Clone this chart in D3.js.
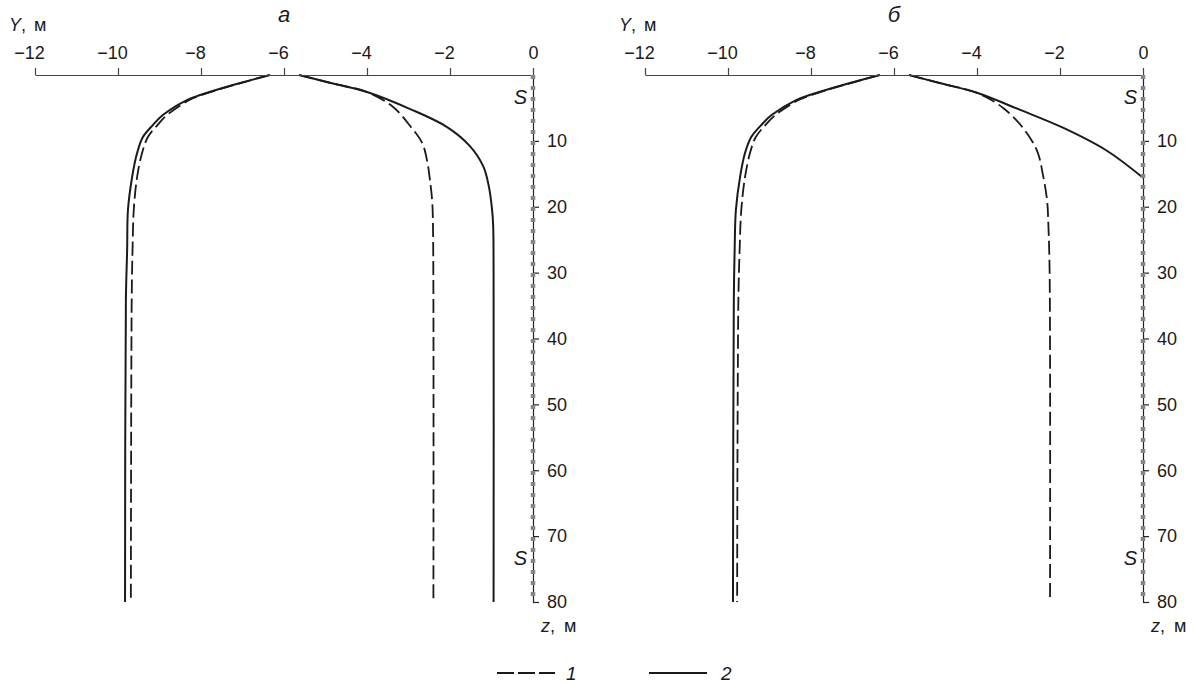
<!DOCTYPE html>
<html>
<head>
<meta charset="utf-8">
<script src="https://cdn.jsdelivr.net/npm/d3@7"></script>
<style>
body { margin: 0; background: #fff; }
text { font-family: "Liberation Sans", Arial, sans-serif; fill: #1a1a1a; }
</style>
</head>
<body>
<svg id="chart" width="1193" height="686"></svg>
<script>
// horizontal axis Y (m), vertical axis z (m)
var yTicks = [-12, -10, -8, -6, -4, -2, 0];
var zTicks = [10, 20, 30, 40, 50, 60, 70, 80];

// panel a
var aLeftSolidZ = [0, 1.52, 3.04, 3.8, 6.08, 7.6, 9.42, 11.85, 15.5, 20.5, 26.6, 34.2, 80];
var aLeftSolidY = [-6.34, -7.23, -8.02, -8.34, -8.92, -9.16, -9.4, -9.54, -9.66, -9.76, -9.78, -9.81, -9.83];
var aLeftDashZ = [0, 1.52, 3.04, 3.8, 6.08, 7.6, 9.42, 11.85, 15.5, 20.5, 26.6, 34.2, 80];
var aLeftDashY = [-6.34, -7.21, -7.98, -8.28, -8.82, -9.05, -9.28, -9.42, -9.54, -9.62, -9.65, -9.67, -9.69];
var aRightSolidZ = [0, 1.3, 2.58, 5.17, 7.9, 10.79, 13.83, 16.72, 20.2, 22.8, 30, 80];
var aRightSolidY = [-5.64, -4.82, -4.0, -2.96, -2.07, -1.52, -1.2, -1.07, -0.99, -0.96, -0.95, -0.95];
var aRightDashZ = [0, 1.3, 2.58, 4.86, 7.75, 10.33, 13.07, 16.1, 19.1, 22.8, 80];
var aRightDashY = [-5.64, -4.82, -4.0, -3.37, -2.96, -2.67, -2.55, -2.48, -2.43, -2.41, -2.4];

// panel б
var bLeftSolidZ = [0, 1.52, 3.04, 3.8, 6.08, 7.6, 9.42, 11.85, 15.5, 20.5, 26.6, 34.2, 80];
var bLeftSolidY = [-6.34, -7.23, -8.03, -8.36, -8.95, -9.2, -9.44, -9.59, -9.71, -9.81, -9.84, -9.86, -9.88];
var bLeftDashZ = [0, 1.52, 3.04, 3.8, 6.08, 7.6, 9.42, 11.85, 15.5, 20.5, 26.6, 34.2, 80];
var bLeftDashY = [-6.34, -7.21, -7.99, -8.3, -8.86, -9.1, -9.33, -9.47, -9.59, -9.68, -9.72, -9.75, -9.78];
var bRightSolidZ = [0, 1.3, 2.7, 5.3, 8, 11.5, 15.6];
var bRightSolidY = [-5.64, -4.85, -4.0, -2.96, -1.93, -0.87, 0];
var bRightDashZ = [0, 1.3, 2.7, 5.0, 8.05, 11.55, 15.2, 19.1, 22.8, 30, 80];
var bRightDashY = [-5.64, -4.85, -4.0, -3.37, -2.89, -2.55, -2.41, -2.31, -2.28, -2.25, -2.24];

var sMarks = [3.3, 73.3];

var svg = d3.select("#chart");

function pts(zs, ys) {
    return zs.map(function(z, i) { return [ys[i], z]; });
}

function drawPanel(left, title, curves) {
    var x = d3.scaleLinear().domain([-12, 0]).range([left, left + 498]);
    var z = d3.scaleLinear().domain([0, 80]).range([75, 602]);
    var g = svg.append("g");

    var line = d3.line()
        .x(function(d) { return x(d[0]); })
        .y(function(d) { return z(d[1]); })
        .curve(d3.curveCatmullRom.alpha(0.5));

    curves.forEach(function(c) {
        g.append("path")
            .attr("d", line(c.data))
            .attr("fill", "none")
            .attr("stroke", "#1a1a1a")
            .attr("stroke-width", c.dashed ? 1.8 : 2)
            .attr("stroke-dasharray", c.dashed ? "14,5" : null);
    });

    var top = g.append("g")
        .attr("transform", "translate(0,75)")
        .call(d3.axisTop(x).tickValues(yTicks).tickSize(7).tickSizeOuter(0).tickPadding(9));
    top.selectAll("path, line").attr("stroke", "#444").attr("stroke-width", 1.2);
    // digits centred on the tick, minus sign hangs to the left
    top.selectAll("text")
        .attr("font-size", 18)
        .attr("font-family", "Liberation Sans, Arial, sans-serif")
        .attr("fill", "#1a1a1a")
        .attr("dx", function(d) { return d < 0 ? -6 : 0; });

    var right = g.append("g")
        .attr("transform", "translate(" + x(0) + ",0)")
        .call(d3.axisRight(z).tickValues(zTicks).tickSize(6).tickSizeOuter(0).tickPadding(8));
    right.selectAll("path, line").attr("stroke", "#222").attr("stroke-width", 1.2);
    right.selectAll("text").attr("font-size", 18).attr("font-family", "Liberation Sans, Arial, sans-serif").attr("fill", "#1a1a1a");

    // grey dotted boundary S
    g.append("line")
        .attr("x1", x(0)).attr("x2", x(0))
        .attr("y1", z(0)).attr("y2", z(80))
        .attr("stroke", "#858585")
        .attr("stroke-width", 4.5)
        .attr("stroke-dasharray", "4,7");

    sMarks.forEach(function(s) {
        g.append("text")
            .attr("x", x(0) - 6)
            .attr("y", z(s) + 7)
            .attr("text-anchor", "end")
            .attr("font-size", 20)
            .attr("font-style", "italic")
            .text("S");
    });

    var yl = g.append("text").attr("x", left - 26).attr("y", 31).attr("font-size", 18);
    yl.append("tspan").attr("font-style", "italic").text("Y");
    yl.append("tspan").text(",");
    yl.append("tspan").attr("dx", 8).text("м");

    var zl = g.append("text").attr("x", x(0) + 8).attr("y", 632).attr("font-size", 18);
    zl.append("tspan").attr("font-style", "italic").text("z");
    zl.append("tspan").text(",");
    zl.append("tspan").attr("dx", 9).text("м");

    g.append("text")
        .attr("x", x(-6))
        .attr("y", 22)
        .attr("text-anchor", "middle")
        .attr("font-family", "Liberation Serif, Times New Roman, serif")
        .attr("font-style", "italic")
        .attr("font-size", 22)
        .text(title);
}

drawPanel(35, "а", [
    { data: pts(aLeftSolidZ, aLeftSolidY), dashed: false },
    { data: pts(aLeftDashZ, aLeftDashY), dashed: true },
    { data: pts(aRightSolidZ, aRightSolidY), dashed: false },
    { data: pts(aRightDashZ, aRightDashY), dashed: true }
]);

drawPanel(645, "б", [
    { data: pts(bLeftSolidZ, bLeftSolidY), dashed: false },
    { data: pts(bLeftDashZ, bLeftDashY), dashed: true },
    { data: pts(bRightSolidZ, bRightSolidY), dashed: false },
    { data: pts(bRightDashZ, bRightDashY), dashed: true }
]);

// legend
var legend = svg.append("g");
legend.append("line")
    .attr("x1", 497).attr("x2", 555).attr("y1", 673).attr("y2", 673)
    .attr("stroke", "#1a1a1a").attr("stroke-width", 1.8)
    .attr("stroke-dasharray", "17,4");
legend.append("text").attr("x", 566).attr("y", 680)
    .attr("font-size", 19).attr("font-style", "italic").text("1");
legend.append("line")
    .attr("x1", 649).attr("x2", 707).attr("y1", 673).attr("y2", 673)
    .attr("stroke", "#1a1a1a").attr("stroke-width", 1.8);
legend.append("text").attr("x", 721).attr("y", 680)
    .attr("font-size", 19).attr("font-style", "italic").text("2");
</script>
</body>
</html>
